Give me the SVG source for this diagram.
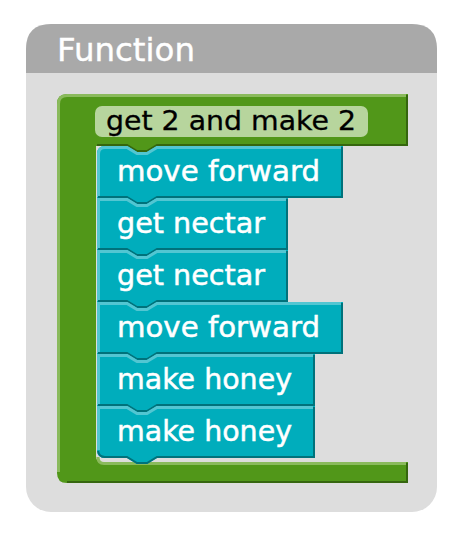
<svg xmlns="http://www.w3.org/2000/svg" width="470" height="538" viewBox="0 0 470 538">
  <style>
    .title { font-family: "DejaVu Sans", "Liberation Sans", sans-serif; font-size: 32px; fill: #ffffff; stroke: #ffffff; stroke-width: 0.4; }
    .label { font-family: "DejaVu Sans", "Liberation Sans", sans-serif; font-size: 27px; fill: #000000; stroke: #000000; stroke-width: 0.3; }
    .stmt { font-family: "DejaVu Sans", "Liberation Sans", sans-serif; font-size: 28.5px; fill: #ffffff; stroke: #ffffff; stroke-width: 0.5; }
    .blk { fill: #00adbc; }
    .blk-hi { fill: none; stroke: #52c6d2; stroke-width: 3; }
    .blk-lo { fill: none; stroke: #00727b; stroke-width: 2; }
    .fn { fill: #519719; }
    .fn-hi { fill: none; stroke: #8aba5c; stroke-width: 3; }
    .fn-lo { fill: none; stroke: #35660e; stroke-width: 2; }
  </style>

  <rect width="470" height="538" fill="#ffffff"/>

  <!-- workspace panel -->
  <g id="panel">
    <rect x="26" y="24" width="411" height="488" rx="25" fill="#dddddd"/>
    <path d="M26,73 V49 Q26,24 51,24 H412 Q437,24 437,49 V73 Z" fill="#a9a9a9"/>
    <text class="title" x="57" y="61" textLength="138" lengthAdjust="spacingAndGlyphs">Function</text>
  </g>

  <!-- procedure definition (C-shaped) -->
  <g id="function-def">
    <path class="fn" d="M67,94 H408 V146 H157 L147,152 H137 L127,146 H96 V456 Q96,462 102,462 H408 V483 H67 Q57,483 57,473 V104 Q57,94 67,94 Z"/>
    <path class="fn-hi" d="M58.5,472 V104 Q58.5,95.5 67,95.5 H406"/>
    <path class="fn-hi" d="M98,457 Q98,463.5 104,463.5 H406"/>
    <path class="fn-lo" d="M407,95 V145 H157 L147,151 H137 L127,145 H97"/>
    <path class="fn-lo" d="M407,463 V482 H67"/>
    <rect x="95" y="106" width="273" height="31" rx="7" fill="#b7d59d"/>
    <text class="label" x="106" y="130" textLength="250" lengthAdjust="spacingAndGlyphs">get 2 and make 2</text>
  </g>

  <!-- statement blocks -->
  <g id="block-1">
    <path class="blk" d="M105,146 H127 L137,152 H147 L157,146 H343 V198 H157 L147,204 H137 L127,198 H97 V154 Q97,146 105,146 Z"/>
    <path class="blk-hi" d="M98.5,197 V154 Q98.5,147.5 105,147.5 H127 L137,153.5 H147 L157,147.5 H341"/>
    <path class="blk-lo" d="M342,147 V197 H157 L147,203 H137 L127,197 H98"/>
    <text class="stmt" x="117" y="181" textLength="203" lengthAdjust="spacingAndGlyphs">move forward</text>
  </g>

  <g id="block-2">
    <path class="blk" d="M97,198 H127 L137,204 H147 L157,198 H288 V250 H157 L147,256 H137 L127,250 H97 Z"/>
    <path class="blk-hi" d="M98.5,249 V199.5 H127 L137,205.5 H147 L157,199.5 H286"/>
    <path class="blk-lo" d="M287,199 V249 H157 L147,255 H137 L127,249 H98"/>
    <text class="stmt" x="117" y="233" textLength="148" lengthAdjust="spacingAndGlyphs">get nectar</text>
  </g>

  <g id="block-3">
    <path class="blk" d="M97,250 H127 L137,256 H147 L157,250 H288 V302 H157 L147,308 H137 L127,302 H97 Z"/>
    <path class="blk-hi" d="M98.5,301 V251.5 H127 L137,257.5 H147 L157,251.5 H286"/>
    <path class="blk-lo" d="M287,251 V301 H157 L147,307 H137 L127,301 H98"/>
    <text class="stmt" x="117" y="285" textLength="148" lengthAdjust="spacingAndGlyphs">get nectar</text>
  </g>

  <g id="block-4">
    <path class="blk" d="M97,302 H127 L137,308 H147 L157,302 H343 V354 H157 L147,360 H137 L127,354 H97 Z"/>
    <path class="blk-hi" d="M98.5,353 V303.5 H127 L137,309.5 H147 L157,303.5 H341"/>
    <path class="blk-lo" d="M342,303 V353 H157 L147,359 H137 L127,353 H98"/>
    <text class="stmt" x="117" y="337" textLength="203" lengthAdjust="spacingAndGlyphs">move forward</text>
  </g>

  <g id="block-5">
    <path class="blk" d="M97,354 H127 L137,360 H147 L157,354 H315 V406 H157 L147,412 H137 L127,406 H97 Z"/>
    <path class="blk-hi" d="M98.5,405 V355.5 H127 L137,361.5 H147 L157,355.5 H313"/>
    <path class="blk-lo" d="M314,355 V405 H157 L147,411 H137 L127,405 H98"/>
    <text class="stmt" x="117" y="389" textLength="175" lengthAdjust="spacingAndGlyphs">make honey</text>
  </g>

  <g id="block-6">
    <path class="blk" d="M97,406 H127 L137,412 H147 L157,406 H315 V458 H157 L147,464 H137 L127,458 H105 Q97,458 97,450 Z"/>
    <path class="blk-hi" d="M98.5,450 V407.5 H127 L137,413.5 H147 L157,407.5 H313"/>
    <path class="blk-lo" d="M314,407 V457 H157 L147,463 H137 L127,457 H105 Q99,457 98,451"/>
    <text class="stmt" x="117" y="441" textLength="175" lengthAdjust="spacingAndGlyphs">make honey</text>
  </g>

  <g id="connectors"></g>
</svg>
